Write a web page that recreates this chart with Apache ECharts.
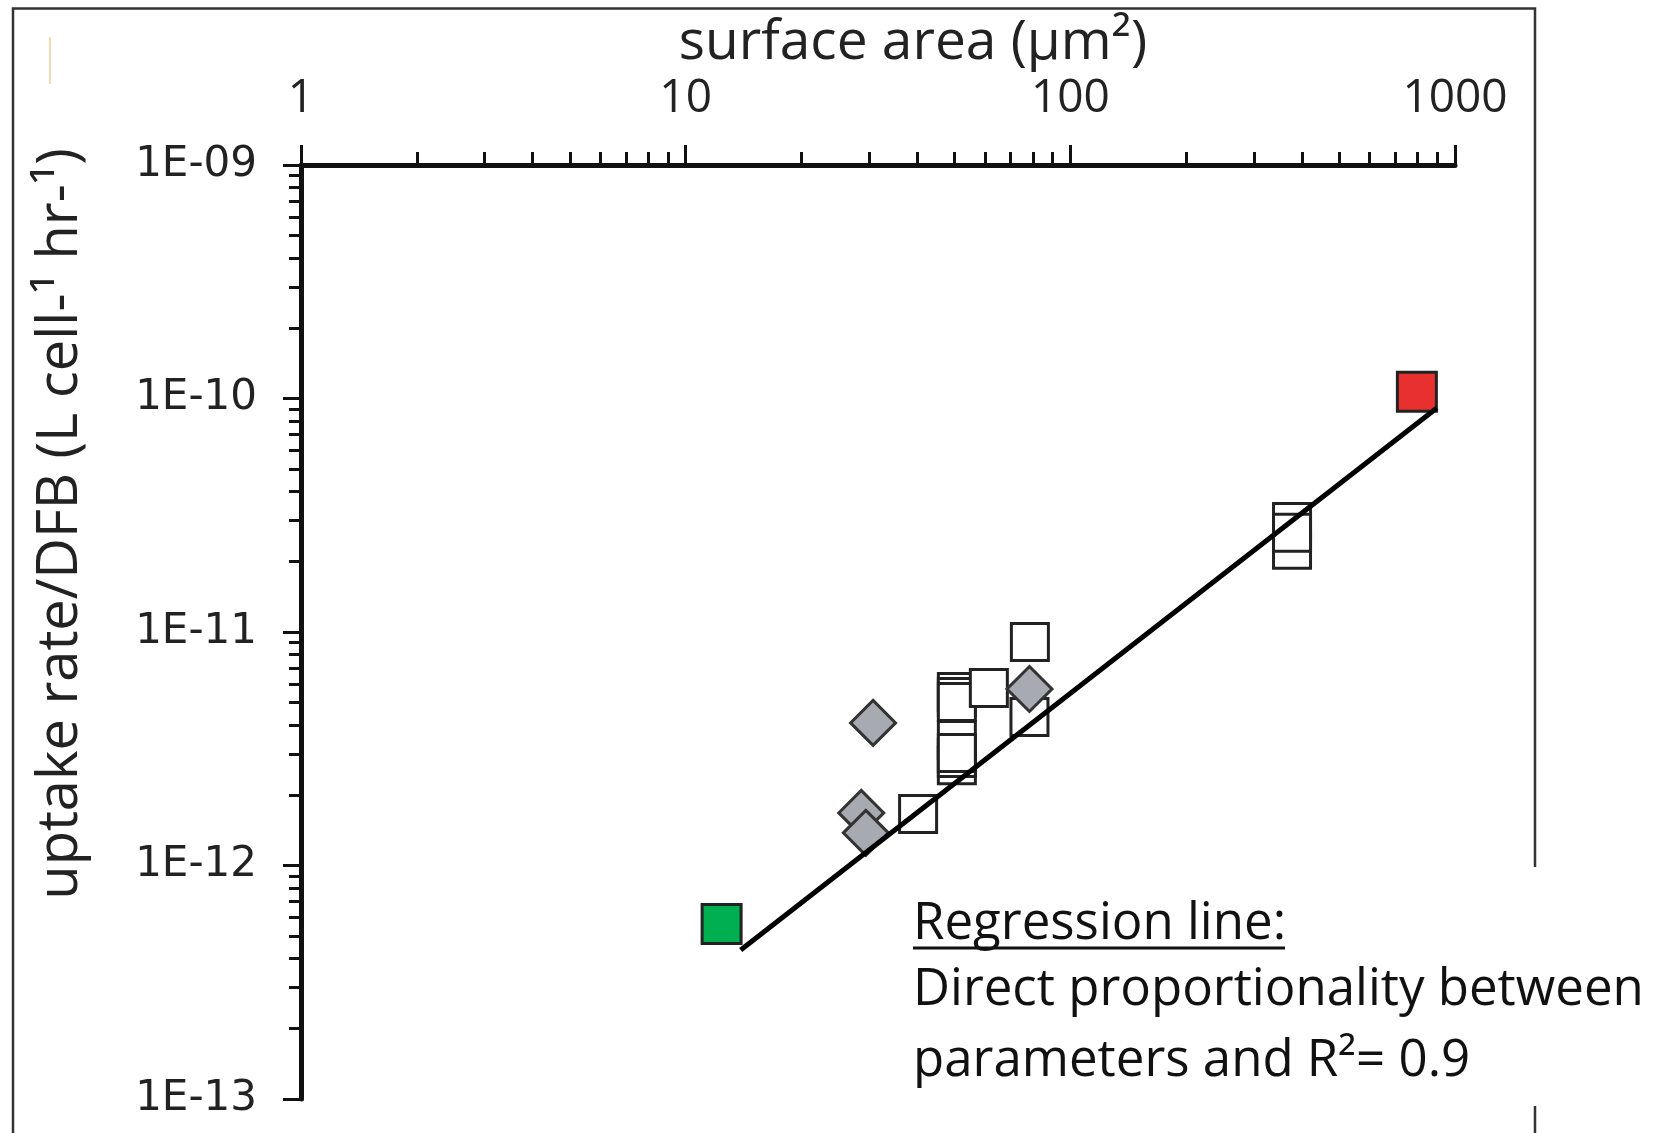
<!DOCTYPE html>
<html><head><meta charset="utf-8">
<script src="https://cdn.jsdelivr.net/npm/echarts@6/dist/echarts.min.js"></script>
<style>html,body{margin:0;padding:0;background:#fff}#c{width:1668px;height:1133px}</style>
</head><body><div id="c"></div>
<script>
// ---- data ----
const xTickLabels = ['1', '10', '100', '1000'];
const yTickLabels = ['1E-13', '1E-12', '1E-11', '1E-10', '1E-09'];

// open squares (surface area µm², uptake rate/DFB)
const whiteX = [50.7, 50.7, 50.7, 50.7, 50.7, 50.7, 50.7, 61.4, 78.5, 78.3, 40.2, 377, 377, 377];
const whiteY = [5.53e-12, 5.27e-12, 5.01e-12, 3.45e-12, 2.69e-12, 2.89e-12, 3.03e-12, 5.75e-12, 9.06e-12, 4.33e-12, 1.66e-12, 2.96e-11, 2.25e-11, 2.66e-11];
// grey diamonds
const greyX = [30.7, 28.6, 29.4, 78.3];
const greyY = [4.08e-12, 1.68e-12, 1.38e-12, 5.70e-12];
// green square
const greenX = [12.4];
const greenY = [5.61e-13];
// red square
const redX = [796];
const redY = [1.07e-10];
// regression line end points
const regX = [13.9, 897];
const regY = [4.35e-13, 9.1e-11];

const zip = (a, b) => a.map((v, i) => [v, b[i]]);

const chart = echarts.init(document.getElementById('c'), null, {renderer: 'canvas'});
const axisCol = '#111';
const txtCol = '#222';

chart.setOption({
  backgroundColor: '#fff',
  animation: false,
  grid: {left: 301, top: 165, width: 1154, height: 934, containLabel: false, outerBoundsMode: 'none'},
  xAxis: {
    type: 'log', logBase: 10, position: 'top', min: 1, max: 1000,
    name: 'surface area (μm²)', nameLocation: 'middle', nameGap: 93,
    nameTextStyle: {fontFamily: 'Open Sans', fontSize: 55, color: txtCol, padding: [0, 0, 0, 70]},
    axisLine: {show: true, lineStyle: {color: axisCol, width: 5}},
    axisTick: {show: true, inside: false, length: 20, lineStyle: {color: axisCol, width: 3}},
    minorTick: {show: true, splitNumber: 9, length: 13, lineStyle: {color: axisCol, width: 3}},
    axisLabel: {fontFamily: 'Open Sans', fontSize: 46, color: txtCol, margin: 43,
      formatter: v => xTickLabels[Math.round(Math.log10(v))]},
    splitLine: {show: false}, minorSplitLine: {show: false}
  },
  yAxis: {
    type: 'log', logBase: 10, position: 'left', min: 1e-13, max: 1e-9,
    name: 'uptake rate/DFB (L cell-¹ hr-¹)', nameLocation: 'middle', nameGap: 212, nameRotate: 90,
    nameTextStyle: {fontFamily: 'Open Sans', fontSize: 56, color: txtCol, padding: [0, 0, 0, 216]},
    axisLine: {show: true, lineStyle: {color: axisCol, width: 5}},
    axisTick: {show: true, inside: false, length: 18, lineStyle: {color: axisCol, width: 3}},
    minorTick: {show: true, splitNumber: 9, length: 12, lineStyle: {color: axisCol, width: 3}},
    axisLabel: {fontFamily: 'DejaVu Sans', fontSize: 42, color: txtCol, margin: 44,
      formatter: v => yTickLabels[Math.round(Math.log10(v)) + 13]},
    splitLine: {show: false}, minorSplitLine: {show: false}
  },
  series: [
    {type: 'scatter', name: 'open', data: zip(whiteX, whiteY), symbol: 'rect', symbolSize: 37, z: 3,
      itemStyle: {color: '#fff', borderColor: '#222', borderWidth: 3, opacity: 1}},
    {type: 'scatter', name: 'grey', data: zip(greyX, greyY), symbol: 'diamond', symbolSize: 45, z: 4,
      itemStyle: {color: '#a7aab1', borderColor: '#333', borderWidth: 3, opacity: 1}},
    {type: 'scatter', name: 'green', data: zip(greenX, greenY), symbol: 'rect', symbolSize: 39, z: 4,
      itemStyle: {color: '#00b050', borderColor: '#222', borderWidth: 3, opacity: 1}},
    {type: 'scatter', name: 'red', data: zip(redX, redY), symbol: 'rect', symbolSize: 39, z: 4,
      itemStyle: {color: '#e8312f', borderColor: '#222', borderWidth: 3, opacity: 1}},
    {type: 'line', name: 'regression', data: zip(regX, regY), showSymbol: false, symbol: 'none', z: 6,
      lineStyle: {color: '#000', width: 5}}
  ],
  graphic: [
    // outer frame
    {type: 'polyline', z: 0, silent: true,
      shape: {points: [[13, 1133], [13, 8.5], [1535, 8.5], [1535, 1133]]},
      style: {fill: null, stroke: '#333', lineWidth: 2.5}},
    // faint mark
    {type: 'line', z: 0, silent: true, shape: {x1: 50, y1: 37, x2: 50, y2: 84},
      style: {stroke: '#f2cf98', lineWidth: 1.5}},
    // annotation box
    {type: 'rect', z: 10, silent: true, shape: {x: 900, y: 867, width: 768, height: 239},
      style: {fill: '#fff'}},
    {type: 'text', z: 11, silent: true, left: 913, top: 899,
      style: {text: 'Regression line:', font: '51px "Open Sans"', fill: '#111'}},
    {type: 'line', z: 11, silent: true, shape: {x1: 913, y1: 948, x2: 1285, y2: 948},
      style: {stroke: '#111', lineWidth: 3}},
    {type: 'text', z: 11, silent: true, left: 913, top: 965,
      style: {text: 'Direct proportionality between', font: '51px "Open Sans"', fill: '#111'}},
    {type: 'text', z: 11, silent: true, left: 913, top: 1036,
      style: {text: 'parameters and R²= 0.9', font: '51px "Open Sans"', fill: '#111'}}
  ]
});
</script></body></html>
